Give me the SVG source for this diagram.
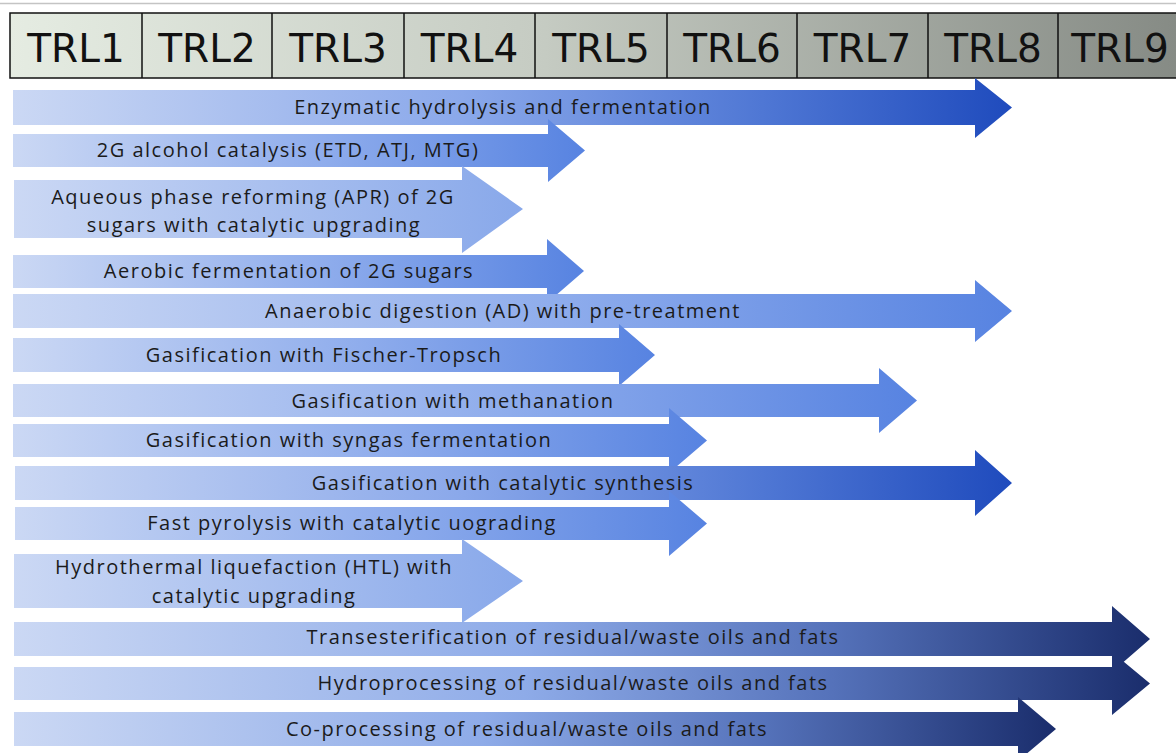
<svg xmlns="http://www.w3.org/2000/svg" width="1176" height="753" viewBox="0 0 1176 753">
  <defs>
    <linearGradient id="hdr" gradientUnits="userSpaceOnUse" x1="10" y1="0" x2="1176" y2="0">
      <stop offset="0" stop-color="#e5ece2"/>
      <stop offset="0.45" stop-color="#c6ccc3"/>
      <stop offset="1" stop-color="#868b85"/>
    </linearGradient>
    <linearGradient id="gDark" x1="0" y1="0" x2="1" y2="0">
      <stop offset="0" stop-color="#cbd8f4"/>
      <stop offset="0.45" stop-color="#8aa8ea"/>
      <stop offset="0.75" stop-color="#4f77d4"/>
      <stop offset="1" stop-color="#1f4bbd"/>
    </linearGradient>
    <linearGradient id="gMid" x1="0" y1="0" x2="1" y2="0">
      <stop offset="0" stop-color="#cbd8f4"/>
      <stop offset="0.55" stop-color="#8eacec"/>
      <stop offset="1" stop-color="#5783e1"/>
    </linearGradient>
    <linearGradient id="gLight" x1="0" y1="0" x2="1" y2="0">
      <stop offset="0" stop-color="#cbd8f4"/>
      <stop offset="1" stop-color="#88a8ea"/>
    </linearGradient>
    <linearGradient id="gNavy" x1="0" y1="0" x2="1" y2="0">
      <stop offset="0" stop-color="#cbd8f4"/>
      <stop offset="0.45" stop-color="#8eabe8"/>
      <stop offset="0.72" stop-color="#5572ba"/>
      <stop offset="1" stop-color="#1a2d6c"/>
    </linearGradient>
  </defs>
  <style>
    .box { fill: url(#hdr); stroke: #111; stroke-width: 1.5; }
    .div { fill: none; stroke: #111; stroke-width: 1.5; }
    .trl { font-family: "DejaVu Sans", sans-serif; font-size: 39px; fill: #111; text-anchor: middle; }
    .lbl { font-family: "Open Sans", "Liberation Sans", sans-serif; font-size: 20px; letter-spacing: 1.5px; fill: #1b1b1b; text-anchor: middle; }
  </style>
  <rect width="1176" height="753" fill="#fff"/>
  <line x1="0" y1="3.5" x2="1176" y2="3.5" stroke="#c4c4c4" stroke-width="1.5"/>

  <g id="header">
    <rect class="box" x="10" y="13" width="1180" height="65"/>
    <path class="div" d="M142 13V78M272 13V78M404 13V78M535 13V78M667 13V78M797 13V78M928 13V78M1058 13V78"/>
    <text class="trl" x="76" y="62">TRL1</text>
    <text class="trl" x="207" y="62">TRL2</text>
    <text class="trl" x="338" y="62">TRL3</text>
    <text class="trl" x="469.5" y="62">TRL4</text>
    <text class="trl" x="601" y="62">TRL5</text>
    <text class="trl" x="732" y="62">TRL6</text>
    <text class="trl" x="862.5" y="62">TRL7</text>
    <text class="trl" x="993" y="62">TRL8</text>
    <text class="trl" x="1120" y="62">TRL9</text>
  </g>

  <g id="arrows">
    <g id="a1">
      <path fill="url(#gDark)" d="M13 90H975V78L1012 107.5L975 138V125H13Z"/>
      <text class="lbl" x="503" y="114">Enzymatic hydrolysis and fermentation</text>
    </g>
    <g id="a2">
      <path fill="url(#gMid)" d="M13 134H548V119L585 150.5L548 182V167H13Z"/>
      <text class="lbl" x="288" y="157">2G alcohol catalysis (ETD, ATJ, MTG)</text>
    </g>
    <g id="a4">
      <path fill="url(#gMid)" d="M13 255H547V239L584 271L547 303V288H13Z"/>
      <text class="lbl" x="289" y="278">Aerobic fermentation of 2G sugars</text>
    </g>
    <g id="a3">
      <path fill="url(#gLight)" d="M14 180H462V166L523 209L462 253V238H14Z"/>
      <text class="lbl" x="253" y="204">Aqueous phase reforming (APR) of 2G</text>
      <text class="lbl" x="254" y="232">sugars with catalytic upgrading</text>
    </g>
    <g id="a5">
      <path fill="url(#gMid)" d="M13 294H975V280L1012 311L975 342V328H13Z"/>
      <text class="lbl" x="503" y="318">Anaerobic digestion (AD) with pre-treatment</text>
    </g>
    <g id="a6">
      <path fill="url(#gMid)" d="M13 338H619V324L655 355L619 386V372H13Z"/>
      <text class="lbl" x="324" y="362">Gasification with Fischer-Tropsch</text>
    </g>
    <g id="a7">
      <path fill="url(#gMid)" d="M13 384H879V368L917 400.5L879 433V417H13Z"/>
      <text class="lbl" x="453" y="408">Gasification with methanation</text>
    </g>
    <g id="a8">
      <path fill="url(#gMid)" d="M13 424H669V408L707 440.5L669 473V457H13Z"/>
      <text class="lbl" x="349" y="447">Gasification with syngas fermentation</text>
    </g>
    <g id="a9">
      <path fill="url(#gDark)" d="M15 466H975V450L1012 483L975 516V500H15Z"/>
      <text class="lbl" x="503" y="490">Gasification with catalytic synthesis</text>
    </g>
    <g id="a10">
      <path fill="url(#gMid)" d="M15 507H669V491L707 523.5L669 556V540H15Z"/>
      <text class="lbl" x="352" y="530">Fast pyrolysis with catalytic uograding</text>
    </g>
    <g id="a12">
      <path fill="url(#gNavy)" d="M14 622H1112V606L1150 639L1112 672V656H14Z"/>
      <text class="lbl" x="573" y="644">Transesterification of residual/waste oils and fats</text>
    </g>
    <g id="a11">
      <path fill="url(#gLight)" d="M14 554H462V539L523 581L462 623V608H14Z"/>
      <text class="lbl" x="254" y="574">Hydrothermal liquefaction (HTL) with</text>
      <text class="lbl" x="254" y="603">catalytic upgrading</text>
    </g>
    <g id="a13">
      <path fill="url(#gNavy)" d="M14 667H1112V652L1150 683.5L1112 715V700H14Z"/>
      <text class="lbl" x="573" y="690">Hydroprocessing of residual/waste oils and fats</text>
    </g>
    <g id="a14">
      <path fill="url(#gNavy)" d="M14 712H1018V697L1056 729L1018 761V746H14Z"/>
      <text class="lbl" x="527" y="736">Co-processing of residual/waste oils and fats</text>
    </g>
  </g>
</svg>
